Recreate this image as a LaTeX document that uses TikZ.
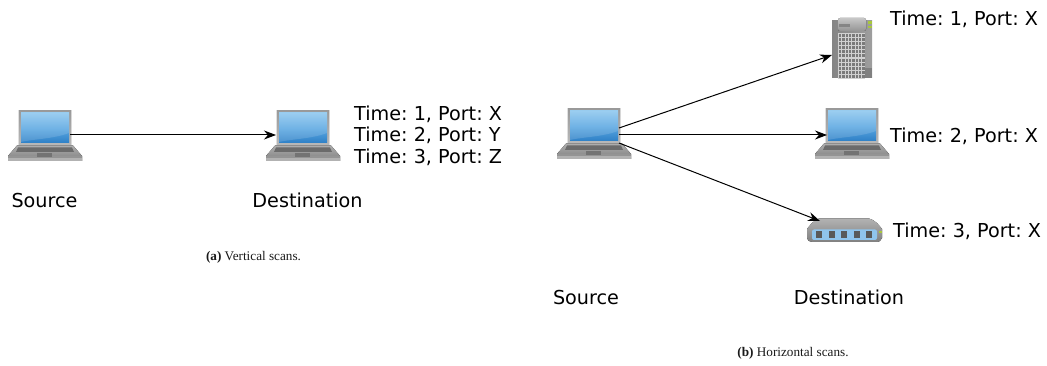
\documentclass[tikz,border=0pt]{standalone}
\usepackage{fontspec}
\setmainfont{DejaVu Sans}
\newfontfamily\capfont{Liberation Serif}
\usetikzlibrary{arrows.meta}
\definecolor{frameG}{HTML}{9A9A9A}
\definecolor{scrTop}{HTML}{8CC6EE}
\definecolor{scrMid}{HTML}{5BA8E2}
\definecolor{scrBot}{HTML}{2E80C6}
\definecolor{panelB}{HTML}{8FC4EC}
\definecolor{ledG}{HTML}{A8C83C}
\tikzset{
  x=1pt,y=-1pt,
  lab/.style={font=\fontsize{19.2}{22}\selectfont\frenchspacing,inner sep=0pt,align=left,text height=14pt,text depth=0pt},
  captext/.style={font=\fontsize{13.2}{15}\selectfont\capfont,inner sep=0pt,text=black!90},
  conn/.style={draw=black,line width=1pt,-{Stealth[length=12pt,width=9pt]}},
  anchorbox/.style={draw=none,fill=none,inner sep=0pt,outer sep=0pt,anchor=north west},
  laptop/.pic={
    \path[fill=black!12] (10,-1) rectangle (64,35);
    \fill[top color=frameG,bottom color=frameG!70] (11,0) rectangle (63,34);
    \fill[top color=scrTop,bottom color=scrBot,middle color=scrMid] (13,1.5) rectangle (61,32);
    \fill[white,opacity=.14] (13,1.5) -- (61,1.5) -- (61,22) .. controls (45,28) and (25,28) .. (13,31) -- cycle;
    \fill[top color=black!32,bottom color=black!50] (9,34.5) -- (65,34.5) -- (74,45) -- (74,50) -- (0,50) -- (0,45) -- cycle;
    \fill[black!58] (10,36.5) -- (64,36.5) -- (66,41) -- (8,41) -- cycle;
    \fill[black!42] (0,45) -- (74,45) -- (74,47) -- (0,47) -- cycle;
    \fill[black!55] (29,42.5) rectangle (44,46.5);
    \fill[black!30] (0,47) rectangle (74,50);
  },
  serverpic/.pic={
    \fill[left color=black!48,right color=black!38] (0,3) rectangle (40,60);
    \fill[top color=black!22,bottom color=black!42,rounded corners=2pt] (6,0) rectangle (34,13);
    \fill[black!48] (7,6) rectangle (18,9);
    \fill[black!18] (6,15) rectangle (33,61);
    \foreach \i in {0,...,7}{\foreach \j in {0,...,10}{
      \fill[black!52] (6.8+\i*3.35,16+\j*4.1) rectangle (9.2+\i*3.35,19+\j*4.1);}}
    \fill[black!50] (33,50) rectangle (40,60);
    \fill[ledG] (36,3.5) rectangle (40,6);
    \fill[ledG] (36,8) rectangle (40,10.5);
  },
  switchpic/.pic={
    \fill[top color=black!30,bottom color=black!50] (12,0.5) -- (62,0.5) .. controls (68,2) and (72,7) .. (75,11) -- (75,20) .. controls (74,23) and (72,24) .. (70,24) -- (5,24) .. controls (2,24) and (0,22) .. (0,20) -- (0,11) .. controls (3,7) and (7,2) .. (12,0.5) -- cycle;
    \fill[rounded corners=2pt,fill=panelB] (5,11.5) rectangle (70,22);
    \foreach \cx in {12,24.5,37,49.5,62}{\fill[black!65] (\cx-3,13.5) rectangle (\cx+3,20);}
    \fill[ledG] (72,13) rectangle (74.5,15);
  }
}
\begin{document}
\begin{tikzpicture}
\useasboundingbox (0,0) rectangle (1047,366);
% icons
\pic at (8,111) {laptop};
\pic at (266,111) {laptop};
\pic at (557,109) {laptop};
\pic at (815,109) {laptop};
\pic at (832,18) {serverpic};
\pic at (807,218) {switchpic};
% connection anchors
\node[anchorbox,minimum width=50pt,minimum height=48pt] (srcA) at (20,111) {};
\node[anchorbox,minimum width=50pt,minimum height=48pt] (dstA) at (276,111) {};
\node[anchorbox,minimum width=50pt,minimum height=50pt] (srcB) at (569,109) {};
\node[anchorbox,minimum width=40pt,minimum height=61pt] (server) at (832,18) {};
\node[anchorbox,minimum width=60pt,minimum height=50pt] (laptopB) at (827,110) {};
\node[anchorbox,minimum width=75pt,minimum height=24pt] (switch) at (820,209) {};
\coordinate (srcBa) at (619,128);
\coordinate (srcBb) at (619,135);
\coordinate (srcBc) at (619,143);
\coordinate (serverIn) at (832,55);
\coordinate (switchIn) at (820,221);
\draw[conn] (srcA.east) -- (dstA.west);
\draw[conn] (srcBa) -- (serverIn);
\draw[conn] (srcBb) -- (laptopB.west);
\draw[conn] (srcBc) -- (switchIn);
% labels
\node[lab] (s1) at (44.5,200.5) {Source};
\node[lab] (d1) at (307.5,200.5) {Destination};
\node[lab,anchor=west] (ta1) at (354,113.5) {Time: 1, Port: X};
\node[lab,anchor=west] (ta2) at (354,135) {Time: 2, Port: Y};
\node[lab,anchor=west] (ta3) at (354,156.5) {Time: 3, Port: Z};
\node[captext] (c1) at (253.5,257.5) {\textbf{(a)} Vertical scans.};
\node[lab,anchor=west] (tb1) at (890,18.5) {Time: 1, Port: X};
\node[lab,anchor=west] (tb2) at (890,135.5) {Time: 2, Port: X};
\node[lab,anchor=west] (tb3) at (893,231) {Time: 3, Port: X};
\node[lab] (s2) at (586,297.5) {Source};
\node[lab] (d2) at (849,297.5) {Destination};
\node[captext] (c2) at (793,353.5) {\textbf{(b)} Horizontal scans.};
\end{tikzpicture}
\end{document}
